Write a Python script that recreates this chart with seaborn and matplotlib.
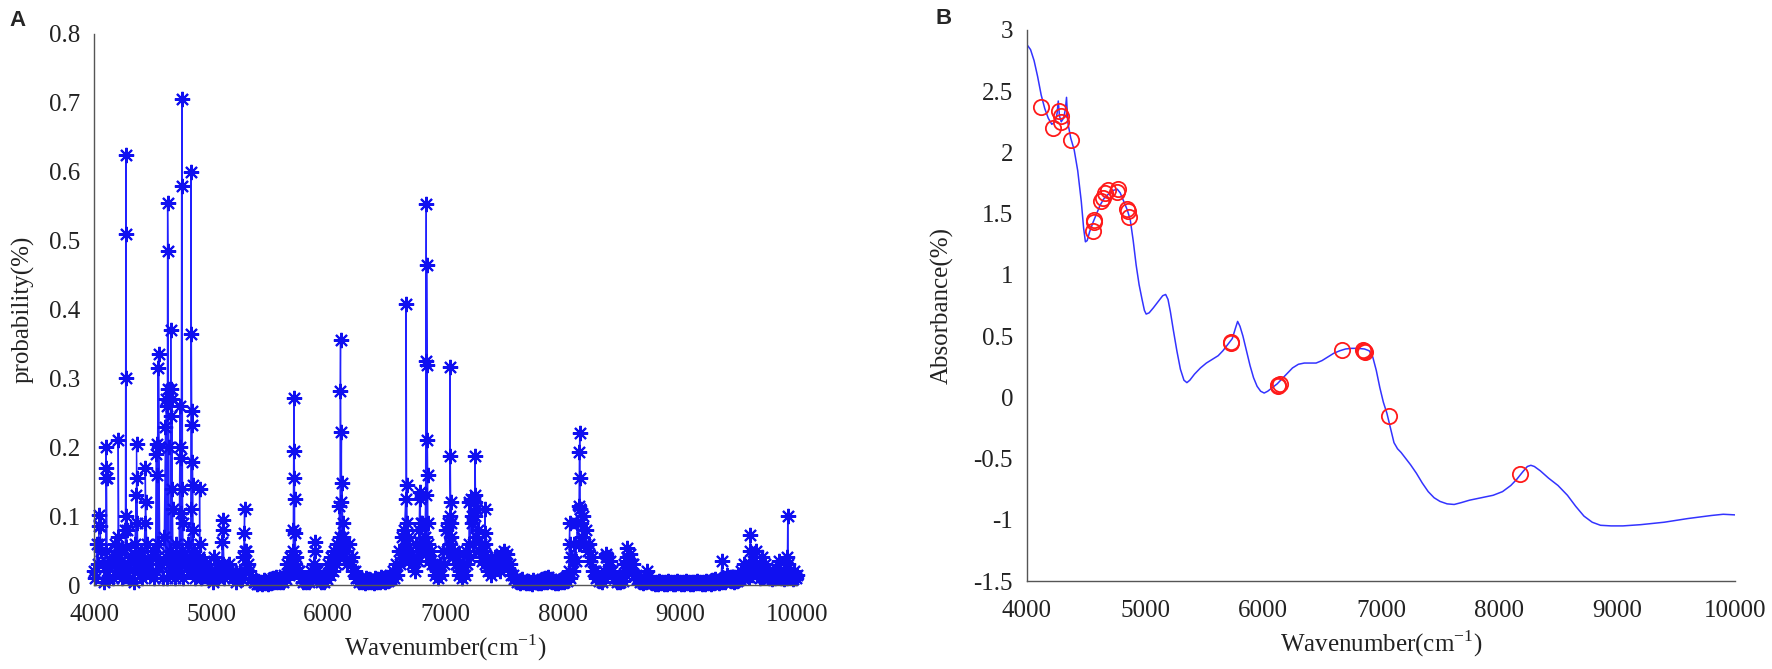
import numpy as np
import pandas as pd
import matplotlib
matplotlib.use('Agg')
import matplotlib.pyplot as plt
import seaborn as sns

# ---- panel A: selection probability per wavenumber ----
# baseline band, one value every 25 cm-1 from 4000 to 10000
grid_wn = np.arange(4000, 10001, 25)
base_prob = [
    0.02, 0.06, 0.085, 0.03, 0.05, 0.01, 0.04, 0.06, 0.02, 0.05, 0.03, 0.055, 0.01, 0.04, 0.06, 0.02, 0.05, 0.035, 0.06, 0.015,
    0.05, 0.02, 0.06, 0.03, 0.07, 0.01, 0.05, 0.04, 0.06, 0.02, 0.05, 0.03, 0.06, 0.02, 0.05, 0.03, 0.04, 0.02, 0.03, 0.01,
    0.02, 0.01, 0.03, 0.02, 0.03, 0.025, 0.03, 0.02, 0.015, 0.01, 0.02, 0.04, 0.05, 0.02, 0.008, 0.005, 0.006, 0.004, 0.007, 0.005,
    0.008, 0.01, 0.012, 0.008, 0.01, 0.015, 0.03, 0.04, 0.05, 0.04, 0.02, 0.01, 0.008, 0.01, 0.02, 0.03, 0.02, 0.008, 0.01, 0.015,
    0.03, 0.04, 0.05, 0.06, 0.07, 0.06, 0.05, 0.06, 0.04, 0.02, 0.01, 0.008, 0.006, 0.01, 0.008, 0.006, 0.01, 0.008, 0.012, 0.01,
    0.012, 0.015, 0.02, 0.03, 0.05, 0.07, 0.08, 0.06, 0.05, 0.04, 0.06, 0.08, 0.09, 0.07, 0.06, 0.05, 0.03, 0.02, 0.03, 0.05,
    0.08, 0.09, 0.07, 0.05, 0.03, 0.02, 0.03, 0.05, 0.06, 0.09, 0.10, 0.08, 0.06, 0.05, 0.04, 0.03, 0.035, 0.04, 0.035, 0.045,
    0.05, 0.045, 0.03, 0.015, 0.01, 0.006, 0.008, 0.005, 0.006, 0.004, 0.007, 0.005, 0.006, 0.008, 0.01, 0.012, 0.008, 0.006, 0.005, 0.007,
    0.008, 0.012, 0.02, 0.04, 0.06, 0.09, 0.11, 0.10, 0.08, 0.06, 0.04, 0.02, 0.012, 0.01, 0.02, 0.04, 0.035, 0.02, 0.01, 0.008,
    0.012, 0.03, 0.04, 0.045, 0.03, 0.015, 0.008, 0.006, 0.01, 0.012, 0.006, 0.005, 0.004, 0.006, 0.005, 0.004, 0.006, 0.005, 0.004, 0.006,
    0.005, 0.004, 0.006, 0.005, 0.004, 0.005, 0.006, 0.004, 0.005, 0.006, 0.005, 0.007, 0.008, 0.006, 0.008, 0.01, 0.015, 0.012, 0.01, 0.012,
    0.015, 0.02, 0.03, 0.025, 0.03, 0.035, 0.03, 0.02, 0.025, 0.03, 0.02, 0.015, 0.02, 0.025, 0.02, 0.015, 0.02, 0.025, 0.015, 0.02,
    0.015,
]
# in-between samples (4012.5, 4037.5, ...) that fill the lower part of the band
mid_wn = np.arange(4012.5, 10000, 25)
mid_prob = [
    0.01, 0.03, 0.05, 0.005, 0.02, 0.035, 0.01, 0.03, 0.045, 0.01, 0.02, 0.03, 0.04, 0.005, 0.025, 0.04, 0.01, 0.02, 0.03, 0.04,
    0.01, 0.04, 0.03, 0.01, 0.04, 0.03, 0.02, 0.01, 0.035, 0.04, 0.01, 0.04, 0.02, 0.035, 0.01, 0.02, 0.01, 0.035, 0.015, 0.02,
    0.005, 0.02, 0.01, 0.025, 0.01, 0.02, 0.015, 0.01, 0.005, 0.012, 0.008, 0.02, 0.03, 0.01, 0.004, 0.002, 0.003, 0.002, 0.003, 0.002,
    0.003, 0.004, 0.005, 0.004, 0.005, 0.008, 0.015, 0.02, 0.03, 0.02, 0.01, 0.005, 0.004, 0.005, 0.01, 0.015, 0.01, 0.004, 0.005, 0.008,
    0.015, 0.02, 0.03, 0.04, 0.05, 0.04, 0.03, 0.035, 0.02, 0.01, 0.005, 0.004, 0.003, 0.005, 0.004, 0.003, 0.005, 0.004, 0.006, 0.005,
    0.006, 0.008, 0.01, 0.015, 0.03, 0.045, 0.05, 0.035, 0.03, 0.02, 0.035, 0.05, 0.06, 0.045, 0.035, 0.03, 0.015, 0.01, 0.015, 0.03,
    0.05, 0.06, 0.04, 0.03, 0.015, 0.01, 0.015, 0.03, 0.04, 0.06, 0.07, 0.05, 0.035, 0.03, 0.02, 0.015, 0.02, 0.025, 0.02, 0.03,
    0.03, 0.025, 0.015, 0.008, 0.005, 0.003, 0.004, 0.003, 0.003, 0.002, 0.004, 0.003, 0.003, 0.004, 0.005, 0.006, 0.004, 0.003, 0.003, 0.004,
    0.004, 0.006, 0.01, 0.02, 0.035, 0.06, 0.07, 0.06, 0.05, 0.035, 0.02, 0.01, 0.006, 0.005, 0.01, 0.02, 0.02, 0.01, 0.005, 0.004,
    0.006, 0.015, 0.025, 0.03, 0.015, 0.008, 0.004, 0.003, 0.005, 0.006, 0.003, 0.002, 0.002, 0.003, 0.002, 0.002, 0.003, 0.002, 0.002, 0.003,
    0.002, 0.002, 0.003, 0.002, 0.002, 0.003, 0.003, 0.002, 0.002, 0.003, 0.002, 0.003, 0.004, 0.003, 0.004, 0.005, 0.008, 0.006, 0.005, 0.006,
    0.008, 0.01, 0.015, 0.012, 0.015, 0.02, 0.015, 0.01, 0.012, 0.015, 0.01, 0.008, 0.01, 0.012, 0.01, 0.008, 0.01, 0.012, 0.008, 0.01,
]

# spikes (several neighbouring wavenumbers per peak)
peak_wn = [4040, 4042, 4044,
           4101, 4103, 4105, 4107,
           4205, 4207,
           4268, 4270, 4272, 4274, 4276, 4278,
           4360, 4363, 4366, 4369,
           4435, 4438, 4441,
           4530, 4535, 4540, 4548, 4551, 4554,
           4610, 4615, 4620, 4628, 4631, 4634, 4637,
           4655, 4658, 4661, 4664, 4667, 4670,
           4735, 4738, 4741, 4744, 4748, 4752, 4755, 4758,
           4826, 4828, 4831, 4834, 4837, 4840, 4843, 4846,
           4901, 4903,
           5026,
           5095, 5098, 5101,
           5282, 5285, 5288,
           5701, 5703, 5706, 5709, 5712, 5715,
           5882, 5885, 5888,
           6095, 6101, 6104, 6108, 6112, 6118, 6122, 6126,
           6660, 6664, 6668, 6672, 6676,
           6780, 6785, 6790,
           6830, 6833, 6836, 6839, 6842, 6845, 6848, 6851,
           7035, 7038, 7041, 7044, 7047,
           7115,
           7201, 7215, 7230,
           7251, 7253, 7256, 7259,
           7335, 7338, 7341,
           8060, 8063,
           8140, 8143, 8146, 8149, 8152, 8155,
           8370, 8373,
           8551, 8553,
           8720,
           9360,
           9595, 9601, 9651, 9701,
           9845, 9918, 9921, 9924]
peak_prob = [0.06, 0.102, 0.085,
             0.155, 0.20, 0.17, 0.155,
             0.07, 0.21,
             0.08, 0.30, 0.625, 0.51, 0.10, 0.08,
             0.13, 0.205, 0.155, 0.09,
             0.09, 0.17, 0.12,
             0.19, 0.205, 0.16, 0.315, 0.335, 0.20,
             0.23, 0.27, 0.26, 0.555, 0.485, 0.285, 0.20,
             0.37, 0.245, 0.285, 0.27, 0.14, 0.11,
             0.26, 0.20, 0.185, 0.105, 0.58, 0.705, 0.14, 0.09,
             0.11, 0.60, 0.365, 0.253, 0.232, 0.178, 0.145, 0.08,
             0.14, 0.06,
             0.04,
             0.062, 0.095, 0.08,
             0.075, 0.11, 0.05,
             0.08, 0.155, 0.272, 0.195, 0.125, 0.075,
             0.05, 0.062, 0.02,
             0.115, 0.282, 0.355, 0.12, 0.222, 0.148, 0.09, 0.07,
             0.125, 0.408, 0.145, 0.09, 0.07,
             0.135, 0.125, 0.09,
             0.13, 0.325, 0.553, 0.465, 0.32, 0.21, 0.16, 0.09,
             0.10, 0.317, 0.188, 0.12, 0.09,
             0.045,
             0.12, 0.125, 0.10,
             0.12, 0.187, 0.13, 0.11,
             0.075, 0.11, 0.06,
             0.09, 0.06,
             0.115, 0.193, 0.22, 0.155, 0.11, 0.09,
             0.045, 0.04,
             0.053, 0.035,
             0.02,
             0.035,
             0.05, 0.072, 0.05, 0.04,
             0.035, 0.04, 0.10, 0.03]

# ---- panel B: mean spectrum and selected variables ----
spec_wn = [4000, 4030, 4060, 4090, 4120, 4150, 4180, 4210, 4240, 4255, 4265, 4275, 4290,
           4310, 4325, 4335, 4345, 4370, 4400, 4430, 4460, 4480, 4495, 4510, 4530, 4560,
           4590, 4620, 4650, 4690, 4730, 4765, 4790, 4820, 4850, 4875, 4900, 4925, 4950,
           4975, 4995, 5010, 5035, 5070, 5110, 5150, 5175, 5195, 5215, 5240, 5270, 5300,
           5330, 5355, 5380, 5420, 5470, 5520, 5570, 5620, 5660, 5700, 5740, 5765, 5785,
           5805, 5830, 5860, 5890, 5920, 5950, 5980, 6010, 6040, 6080, 6120, 6160, 6200,
           6250, 6300, 6350, 6400, 6450, 6500, 6550, 6600, 6650, 6700, 6750, 6800, 6860,
           6900, 6930, 6960, 6990, 7020, 7050, 7080, 7110, 7140, 7170, 7210, 7250, 7300,
           7350, 7400, 7450, 7500, 7560, 7620, 7680, 7750, 7850, 7950, 8030, 8100, 8150,
           8200, 8240, 8270, 8300, 8350, 8420, 8500, 8580, 8650, 8720, 8790, 8860, 8950,
           9050, 9200, 9400, 9600, 9800, 9900, 10000]
spec_abs = [2.88, 2.84, 2.75, 2.62, 2.47, 2.36, 2.28, 2.23, 2.25, 2.32, 2.42, 2.30, 2.25,
            2.28, 2.35, 2.45, 2.25, 2.12, 2.02, 1.85, 1.60, 1.38, 1.27, 1.28, 1.35, 1.43,
            1.50, 1.57, 1.62, 1.66, 1.69, 1.70, 1.67, 1.60, 1.53, 1.45, 1.28, 1.08, 0.92,
            0.80, 0.71, 0.68, 0.69, 0.73, 0.78, 0.83, 0.84, 0.80, 0.70, 0.55, 0.38, 0.23,
            0.14, 0.12, 0.14, 0.19, 0.24, 0.28, 0.31, 0.34, 0.38, 0.43, 0.48, 0.56, 0.62,
            0.58, 0.50, 0.38, 0.26, 0.16, 0.09, 0.05, 0.035, 0.05, 0.08, 0.11, 0.15, 0.19,
            0.24, 0.27, 0.28, 0.28, 0.28, 0.30, 0.33, 0.36, 0.38, 0.395, 0.40, 0.40, 0.395,
            0.38, 0.33, 0.22, 0.08, -0.04, -0.13, -0.25, -0.37, -0.42, -0.45, -0.50, -0.55, -0.62,
            -0.70, -0.77, -0.82, -0.85, -0.87, -0.875, -0.86, -0.84, -0.82, -0.80, -0.77, -0.72, -0.67,
            -0.61, -0.565, -0.555, -0.565, -0.60, -0.66, -0.72, -0.80, -0.89, -0.97, -1.02, -1.045, -1.05,
            -1.05, -1.04, -1.02, -0.99, -0.965, -0.955, -0.96]

sel_wn = [4119, 4222, 4273, 4289, 4290, 4376, 4557, 4572, 4570, 4624, 4640, 4660, 4686,
          4763, 4768, 4851, 4856, 4866, 5728, 5732, 6130, 6140, 6125, 6672, 6853, 6863,
          6845, 7065, 8180]
sel_abs = [2.37, 2.20, 2.34, 2.30, 2.25, 2.10, 1.36, 1.45, 1.43, 1.60, 1.63, 1.67, 1.69,
           1.68, 1.70, 1.54, 1.52, 1.47, 0.45, 0.44, 0.10, 0.11, 0.09, 0.39, 0.38, 0.37,
           0.39, -0.15, -0.63]

ticks_wn = [4000, 5000, 6000, 7000, 8000, 9000, 10000]
ticks_a = [0, 0.1, 0.2, 0.3, 0.4, 0.5, 0.6, 0.7, 0.8]
labels_a = ['0', '0.1', '0.2', '0.3', '0.4', '0.5', '0.6', '0.7', '0.8']
ticks_b = [-1.5, -1, -0.5, 0, 0.5, 1, 1.5, 2, 2.5, 3]
labels_b = ['-1.5', '-1', '-0.5', '0', '0.5', '1', '1.5', '2', '2.5', '3']

sns.set_style('white')
plt.rcParams['font.family'] = ['Liberation Serif', 'DejaVu Serif']
plt.rcParams['mathtext.fontset'] = 'custom'
plt.rcParams['mathtext.rm'] = 'Liberation Serif'
plt.rcParams['axes.unicode_minus'] = False

dfa = pd.concat([
    pd.DataFrame({'wn': grid_wn, 'p': base_prob}),
    pd.DataFrame({'wn': mid_wn, 'p': mid_prob}),
    pd.DataFrame({'wn': peak_wn, 'p': peak_prob}),
]).sort_values('wn', kind='stable')
dfb = pd.DataFrame({'wn': spec_wn, 'a': spec_abs})
dfs = pd.DataFrame({'wn': sel_wn, 'a': sel_abs})

fig = plt.figure(figsize=(17.72, 6.69), dpi=100)
W, H = 1772, 669
axa = fig.add_axes([94 / W, 1 - 585 / H, 703 / W, 551 / H])
axb = fig.add_axes([1027 / W, 1 - 581 / H, 708 / W, 551 / H])

axis_col = '#555555'
tick_size = 18
asterisk = (8, 2, 0)

sns.lineplot(data=dfa, x='wn', y='p', ax=axa, estimator=None, sort=False,
             color='#2020ff', linewidth=1.0, marker=asterisk, markersize=11,
             markeredgewidth=1.5, markeredgecolor='#1010f0', clip_on=False)
axa.set_xlim(4000, 10000)
axa.set_ylim(0, 0.8)
axa.set_xticks(ticks_wn)
axa.set_yticks(ticks_a)
axa.set_yticklabels(labels_a)
axa.set_ylabel('probability(%)', fontsize=tick_size)
axa.yaxis.set_label_coords(-0.085, 0.5)

sns.lineplot(data=dfb, x='wn', y='a', ax=axb, estimator=None, sort=False,
             color='#3333ff', linewidth=1.1)
sns.lineplot(data=dfs, x='wn', y='a', ax=axb, estimator=None, sort=False,
             linestyle='none', marker='o', markersize=11, markerfacecolor='none',
             markeredgecolor='#ff1a1a', markeredgewidth=1.3, color='#ff1a1a')
axb.set_xlim(4000, 10000)
axb.set_ylim(-1.5, 3)
axb.set_xticks(ticks_wn)
axb.set_yticks(ticks_b)
axb.set_yticklabels(labels_b)
axb.set_ylabel('Absorbance(%)', fontsize=tick_size)
axb.yaxis.set_label_coords(-0.103, 0.5)

for ax in (axa, axb):
    sns.despine(ax=ax)
    for s in ('left', 'bottom'):
        ax.spines[s].set_color(axis_col)
        ax.spines[s].set_linewidth(1.0)
    ax.tick_params(direction='in', length=5, width=0.9, color=axis_col,
                   labelsize=tick_size, labelcolor='#222222', pad=10)
    ax.tick_params(axis='x', pad=14)
    ax.set_xlabel('Wavenumber(cm$^{-1}$)', fontsize=tick_size, color='#222222')
    ax.xaxis.set_label_coords(0.5, -0.113)
    ax.xaxis.label.set_va('center')
    ax.yaxis.label.set_color('#222222')

fig.text(18 / W, 1 - 20 / H, 'A', fontsize=16, fontweight='bold',
         family=['Liberation Sans', 'DejaVu Sans'], ha='center', va='center')
fig.text(944 / W, 1 - 19 / H, 'B', fontsize=16, fontweight='bold',
         family=['Liberation Sans', 'DejaVu Sans'], ha='center', va='center')

fig.savefig('out.png', dpi=100)
